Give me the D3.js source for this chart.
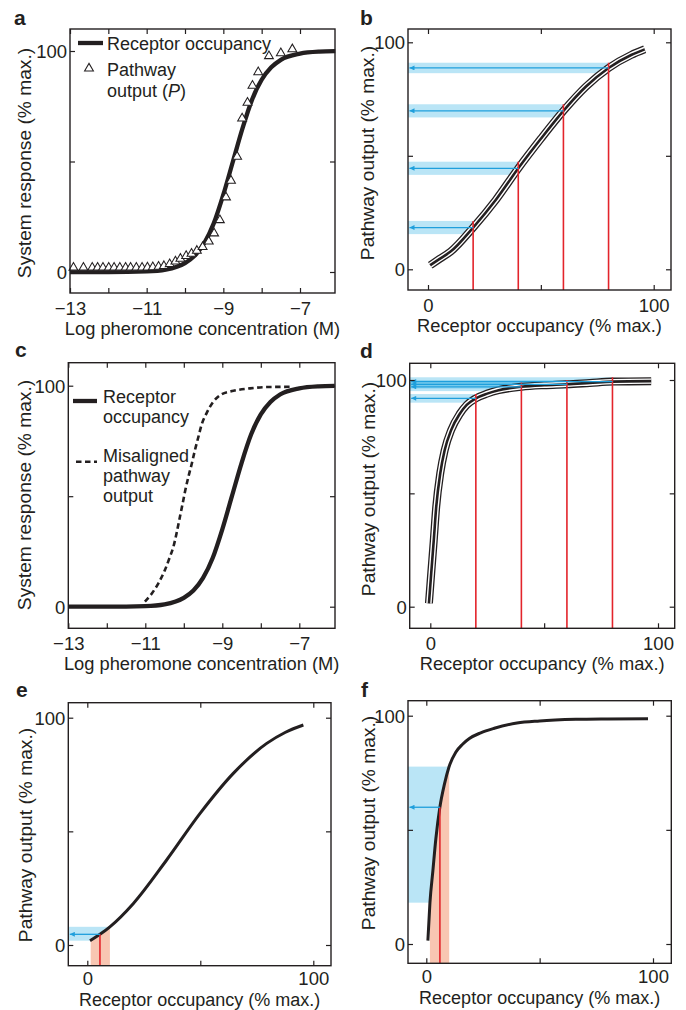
<!DOCTYPE html>
<html><head><meta charset="utf-8">
<script src="https://cdn.jsdelivr.net/npm/d3@7"></script>
<style>
body{margin:0;background:#fff}
svg text{font-family:"Liberation Sans",Arial,Helvetica,sans-serif;fill:#231f20}
</style>
</head><body>
<svg id="fig" width="686" height="1010"></svg>
<script>
// ---------------- DATA ----------------
// Panel a / c : receptor occupancy vs log pheromone concentration
const receptorLogConc = [-13,-12,-11,-10.5,-10,-9.75,-9.5,-9.25,-9,-8.75,-8.5,-8.25,-8,-7.75,-7.5,-7,-6.5,-6.08];
const receptorOcc     = [0,0,0.3,1.1,4,7.3,13,22,35,50,65,78,87,92.6,96,98.8,99.7,99.9];
// Panel a : pathway output triangles
const pathwayLogConc = [-12.91,-12.65,-12.42,-12.28,-12.14,-11.99,-11.85,-11.70,-11.55,-11.42,-11.27,-11.12,-10.98,-10.84,-10.69,-10.55,-10.40,-10.25,-10.12,-9.97,-9.83,-9.69,-9.54,-9.38,-9.24,-9.09,-8.93,-8.80,-8.64,-8.51,-8.37,-8.24,-8.09,-7.81,-7.50,-7.20];
const pathwayOut     = [2,2,2,2,2,2,2,2,2,2,2,2,2.1,2.2,2.4,2.7,3.6,4.8,6,7.3,8.3,9.6,11.3,13.8,17.5,23.5,33.8,41.3,52.2,69.5,76.6,84.3,90.4,97.7,99,100.8];
// Panel c : misaligned pathway output (dashed)
const misLogConc = [-11.01,-10.83,-10.66,-10.49,-10.36,-10.27,-10.18,-10.10,-10.03,-9.96,-9.88,-9.79,-9.71,-9.62,-9.54,-9.41,-9.23,-9.02,-8.71,-8.28,-7.85,-7.20];
const misOut     = [2.3,6.0,10.6,16.6,22.6,27.1,33.9,40.7,46.7,52.8,58.8,64.9,70.9,76.9,82.2,87.5,92.8,96.1,97.7,98.8,99.4,99.5];
// Panel b : aligned transfer curve
const bOcc = [1,5,10,20,30,40,50,60,70,80,90,96];
const bOut = [1.8,4.5,7.8,18.4,30.5,44.5,57.5,69.8,80.5,88.7,94.4,96.9];
const bProbeOcc = [20,40,60,80];
const bProbeOut = [18.4,44.5,69.8,88.7];
const bBandLo   = [15.5,41.6,66.9,86.4];
const bBandHi   = [21.3,47.4,72.7,91.0];
// Panel d : misaligned transfer curve
const dOcc = [-0.6,0.4,1.5,2.6,4.4,6.3,9.2,12.9,16,20,25,30,40,50,60,70,80,97];
const dOut = [1.5,14.7,29,44,59,69,78,85,89,91.9,94,95.5,97,97.7,98.1,98.7,99.3,99.5];
const dProbeOcc = [20,40,60,80];
const dProbeOut = [91.9,97.0,98.1,99.3];
const dBandLo   = [90.0,95.1,96.2,97.4];
const dBandHi   = [93.8,98.9,100.0,101.2];
// Panel e : aligned curve, single input
const eOcc = [1.2,5.6,10,20.4,35.1,49.9,64.6,79.4,87.5,95.6];
const eOut = [1.9,4.7,8.0,18.3,37.4,57.9,75.5,88.7,93.5,96.8];
const eProbeOcc = [5.6], eProbeOut = [4.7];
const eOccRange = [1.5,10.0], eOutRange = [1.9,8.0];
// Panel f : misaligned curve, single input
const fOcc = [0.7,1.6,2.9,4.2,6,8,10,13,16,19,24,30,40,50,66,80,97.8];
const fOut = [1.5,18,32,46,60,70,77.5,84,87.5,90,92.5,94.5,96.8,97.7,98.4,98.6,98.7];
const fProbeOcc = [6.0], fProbeOut = [59.9];
const fOccRange = [1.6,10.1], fOutRange = [18.1,77.7];
// Ticks
const logTicks = [-13,-12,-11,-10,-9,-8,-7];
const logTickLabels = [-13,-11,-9,-7];
const pctTicks = [0,50,100];
const pctTickLabels = [0,100];

// ---------------- STYLE ----------------
const ink = "#231f20", red = "#e3242b", arrowBlue = "#1f9fdc", bandBlue = "#41b6e6", pink = "#f8c6b2";
const fmt = d3.format("d");
const svg = d3.select("#fig");
const defs = svg.append("defs");
defs.append("marker").attr("id","arr").attr("viewBox","0 0 10 10").attr("refX",10).attr("refY",5)
  .attr("markerUnits","userSpaceOnUse").attr("markerWidth",6).attr("markerHeight",5).attr("orient","auto")
  .append("path").attr("d","M0,0L10,5L0,10z").attr("fill",arrowBlue);

const zip = (xs, ys) => xs.map((v,i)=>({x:v,y:ys[i]}));

function makePanel(cfg){
  const [l,r,t,b] = cfg.box;
  const x = d3.scaleLinear().domain(cfg.xAnchor).range(cfg.xRange);
  const y = d3.scaleLinear().domain([0,100]).range(cfg.yRange);
  const g = svg.append("g");
  const lay = {plot: g.append("g"), x, y, l, r, t, b};
  const styleAx = s => { s.select(".domain").remove(); s.attr("font-family",null).attr("font-size",18.5).attr("color",ink);
    s.selectAll("line").attr("stroke-width",1.2); };
  g.append("g").attr("transform",`translate(0,${b})`)
    .call(d3.axisBottom(x).tickValues(cfg.xTicks).tickSizeInner(-5).tickSizeOuter(0)
      .tickFormat(d => cfg.xLabels.includes(d) ? fmt(d) : ""))
    .call(styleAx).call(s => s.selectAll("text").attr("y",cfg.xTickGap||22).attr("dy",null));
  g.append("g").attr("transform",`translate(0,${t})`)
    .call(d3.axisTop(x).tickValues(cfg.xTicks).tickSizeInner(-5).tickSizeOuter(0).tickFormat(""))
    .call(styleAx);
  g.append("g").attr("transform",`translate(${l},0)`)
    .call(d3.axisLeft(y).tickValues(pctTicks).tickSizeInner(-5).tickSizeOuter(0).tickPadding(3)
      .tickFormat(d => pctTickLabels.includes(d) ? fmt(d) : ""))
    .call(styleAx).call(s => s.selectAll("text").attr("x",-3).attr("dy","0.36em"));
  g.append("g").attr("transform",`translate(${r},0)`)
    .call(d3.axisRight(y).tickValues(pctTicks).tickSizeInner(-5).tickSizeOuter(0).tickFormat(""))
    .call(styleAx);
  g.append("rect").attr("x",l).attr("y",t).attr("width",r-l).attr("height",b-t)
    .attr("fill","none").attr("stroke",ink).attr("stroke-width",1.4);
  g.append("text").attr("x",(l+r)/2).attr("y",b+(cfg.xTitleGap||42)).attr("text-anchor","middle")
    .attr("font-size",cfg.xTitleSize||18.3).text(cfg.xTitle);
  g.append("text").attr("transform",`translate(${cfg.yTitleX},${cfg.yTitleY}) rotate(-90)`)
    .attr("text-anchor","middle").attr("font-size",19.2).text(cfg.yTitle);
  g.append("text").attr("x",cfg.letterPos[0]).attr("y",cfg.letterPos[1]).attr("font-size",21)
    .attr("font-weight","bold").text(cfg.letter);
  return lay;
}

function curveLine(p){ return d3.line().x(d=>p.x(d.x)).y(d=>p.y(d.y)).curve(d3.curveMonotoneX); }
function tripleCurve(p, data){
  const ln = curveLine(p);
  [[ink,8],["#fff",5.4],[ink,2.6]].forEach(([c,w]) =>
    p.plot.append("path").datum(data).attr("d",ln).attr("fill","none").attr("stroke",c).attr("stroke-width",w));
}
function probes(p, occ, out, lo, hi){
  occ.forEach((o,i)=>{
    p.plot.append("rect").attr("x",p.l).attr("width",p.x(o)-p.l).attr("y",p.y(hi[i])).attr("height",p.y(lo[i])-p.y(hi[i]))
      .attr("fill",bandBlue).attr("fill-opacity",0.36);
  });
}
function probeLines(p, occ, out, tops){
  occ.forEach((o,i)=>{
    p.plot.append("line").attr("x1",p.x(o)).attr("x2",p.x(o)).attr("y1",p.b).attr("y2",p.y(tops[i]))
      .attr("stroke",red).attr("stroke-width",1.6);
  });
  occ.forEach((o,i)=>{
    p.plot.append("line").attr("x1",p.x(o)).attr("x2",p.l+1.5).attr("y1",p.y(out[i])).attr("y2",p.y(out[i]))
      .attr("stroke",arrowBlue).attr("stroke-width",1.3).attr("marker-end","url(#arr)");
  });
}
function spread(p, id, data, occRange, outRange){
  const below = d3.area().x(d=>p.x(d.x)).y0(p.b).y1(d=>p.y(d.y)).curve(d3.curveMonotoneX);
  const above = d3.area().x(d=>p.x(d.x)).y0(p.t).y1(d=>p.y(d.y)).curve(d3.curveMonotoneX);
  const cb = defs.append("clipPath").attr("id",id+"below");
  cb.append("path").datum(data).attr("d",below);
  const ca = defs.append("clipPath").attr("id",id+"above");
  ca.append("path").datum(data).attr("d",above);
  ca.append("rect").attr("x",p.l).attr("y",p.t).attr("width",p.x(data[0].x)-p.l+0.5).attr("height",p.b-p.t);
  p.plot.append("rect").attr("x",p.l).attr("width",p.x(occRange[1])-p.l)
    .attr("y",p.y(outRange[1])).attr("height",p.y(outRange[0])-p.y(outRange[1]))
    .attr("fill",bandBlue).attr("fill-opacity",0.36).attr("clip-path",`url(#${id}above)`);
  p.plot.append("rect").attr("x",p.x(occRange[0])).attr("width",p.x(occRange[1])-p.x(occRange[0]))
    .attr("y",p.y(outRange[1])).attr("height",p.b-p.y(outRange[1]))
    .attr("fill",pink).attr("clip-path",`url(#${id}below)`);
}
const triSym = d3.symbol(d3.symbolTriangle,34);

// ---------------- PANEL a ----------------
const pa = makePanel({box:[70,335,29,293], xAnchor:[-13,-7], xRange:[70,300], yRange:[272,51],
  xTicks:logTicks, xLabels:logTickLabels, xTitle:"Log pheromone concentration (M)",
  yTitle:"System response (% max.)", yTitleX:31, yTitleY:163, letter:"a", letterPos:[14,25]});
pa.plot.append("path").datum(zip(receptorLogConc, receptorOcc)).attr("d",curveLine(pa))
  .attr("fill","none").attr("stroke",ink).attr("stroke-width",4.3);
pa.plot.selectAll(".tri").data(zip(pathwayLogConc, pathwayOut)).join("path")
  .attr("transform",d=>`translate(${pa.x(d.x)},${pa.y(d.y)})`)
  .attr("d",triSym).attr("fill","#fff").attr("stroke",ink).attr("stroke-width",1.05);
pa.plot.append("line").attr("x1",78).attr("x2",103).attr("y1",43).attr("y2",43).attr("stroke",ink).attr("stroke-width",4.3);
pa.plot.append("text").attr("x",107).attr("y",50).attr("font-size",18).text("Receptor occupancy");
pa.plot.append("path").attr("transform","translate(89,68.5)").attr("d",triSym)
  .attr("fill","#fff").attr("stroke",ink).attr("stroke-width",1.05);
pa.plot.append("text").attr("x",107).attr("y",76).attr("font-size",18).text("Pathway");
const t2 = pa.plot.append("text").attr("x",107).attr("y",96.5).attr("font-size",18);
t2.append("tspan").text("output (");
t2.append("tspan").attr("font-style","italic").text("P");
t2.append("tspan").text(")");

// ---------------- PANEL b ----------------
const pb = makePanel({box:[408,671,29,290], xAnchor:[0,100], xRange:[428,653.7], yRange:[269.3,42.3],
  xTicks:pctTicks, xLabels:pctTickLabels, xTitle:"Receptor occupancy (% max.)",
  yTitle:"Pathway output (% max.)", yTitleX:374, yTitleY:153, letter:"b", letterPos:[360,25]});
probes(pb, bProbeOcc, bProbeOut, bBandLo, bBandHi);
tripleCurve(pb, zip(bOcc, bOut));
probeLines(pb, bProbeOcc, bProbeOut, bBandHi);

// ---------------- PANEL c ----------------
const pc = makePanel({box:[68.3,335,362.7,628.3], xAnchor:[-13,-7], xRange:[68.3,299.3], yRange:[606.7,385.7],
  xTicks:logTicks, xLabels:logTickLabels, xTitle:"Log pheromone concentration (M)",
  yTitle:"System response (% max.)", yTitleX:31, yTitleY:495, letter:"c", letterPos:[15,357]});
pc.plot.append("path").datum(zip(misLogConc, misOut)).attr("d",curveLine(pc))
  .attr("fill","none").attr("stroke",ink).attr("stroke-width",2.6).attr("stroke-dasharray","5.5,3.5");
pc.plot.append("path").datum(zip(receptorLogConc, receptorOcc)).attr("d",curveLine(pc))
  .attr("fill","none").attr("stroke",ink).attr("stroke-width",4.3);
pc.plot.append("line").attr("x1",73).attr("x2",97).attr("y1",401).attr("y2",401).attr("stroke",ink).attr("stroke-width",4.3);
pc.plot.append("text").attr("x",103).attr("y",403).attr("font-size",18).text("Receptor");
pc.plot.append("text").attr("x",103).attr("y",423).attr("font-size",18).text("occupancy");
pc.plot.append("line").attr("x1",76).attr("x2",97).attr("y1",461.7).attr("y2",461.7).attr("stroke",ink)
  .attr("stroke-width",2.6).attr("stroke-dasharray","5.5,3.5");
pc.plot.append("text").attr("x",103).attr("y",461.7).attr("font-size",18).text("Misaligned");
pc.plot.append("text").attr("x",103).attr("y",481.7).attr("font-size",18).text("pathway");
pc.plot.append("text").attr("x",103).attr("y",501.5).attr("font-size",18).text("output");

// ---------------- PANEL d ----------------
const pd = makePanel({box:[409.7,674.7,363.3,628.3], xAnchor:[0,100], xRange:[430.3,658], yRange:[606.7,380],
  xTicks:pctTicks, xLabels:pctTickLabels, xTitle:"Receptor occupancy (% max.)",
  yTitle:"Pathway output (% max.)", yTitleX:375, yTitleY:489, letter:"d", letterPos:[360,358]});
probes(pd, dProbeOcc, dProbeOut, dBandLo, dBandHi);
tripleCurve(pd, zip(dOcc, dOut));
probeLines(pd, dProbeOcc, dProbeOut, dBandHi);

// ---------------- PANEL e ----------------
const pe = makePanel({box:[68.3,331,702.7,965.7], xAnchor:[0,100], xRange:[87.3,313.3], yRange:[945,717.7],
  xTicks:pctTicks, xLabels:pctTickLabels, xTitle:"Receptor occupancy (% max.)", xTickGap:19.5, xTitleGap:40.1, xTitleSize:18,
  yTitle:"Pathway output (% max.)", yTitleX:31.5, yTitleY:835, letter:"e", letterPos:[16,697]});
const eData = zip(eOcc, eOut);
spread(pe, "e", eData, eOccRange, eOutRange);
pe.plot.append("path").datum(eData).attr("d",curveLine(pe)).attr("fill","none").attr("stroke",ink).attr("stroke-width",3);
probeLines(pe, eProbeOcc, eProbeOut, eProbeOut);

// ---------------- PANEL f ----------------
const pf = makePanel({box:[408,671.3,700.7,963.3], xAnchor:[0,100], xRange:[426.3,653], yRange:[944,715.7],
  xTicks:pctTicks, xLabels:pctTickLabels, xTitle:"Receptor occupancy (% max.)", xTickGap:20, xTitleGap:40.8, xTitleSize:18,
  yTitle:"Pathway output (% max.)", yTitleX:375, yTitleY:823, letter:"f", letterPos:[361,697]});
const fData = zip(fOcc, fOut);
spread(pf, "f", fData, fOccRange, fOutRange);
pf.plot.append("path").datum(fData).attr("d",curveLine(pf)).attr("fill","none").attr("stroke",ink).attr("stroke-width",3);
probeLines(pf, fProbeOcc, fProbeOut, fProbeOut);
</script>
</body></html>
